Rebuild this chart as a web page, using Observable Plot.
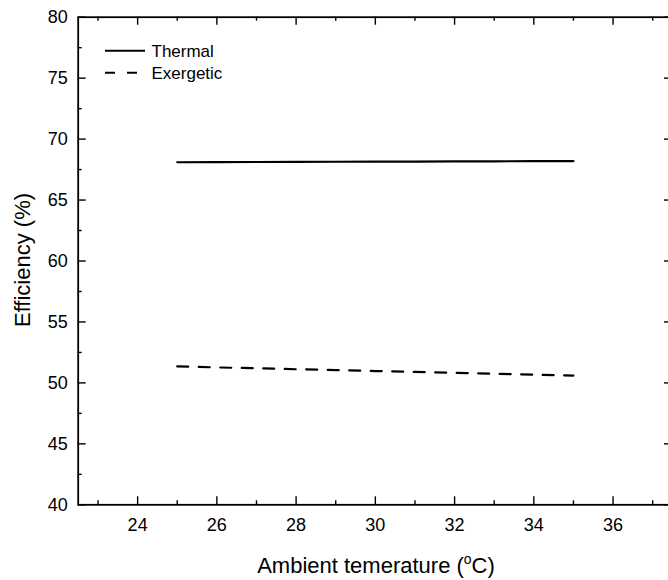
<!DOCTYPE html>
<html><head><meta charset="utf-8">
<script src="https://cdn.jsdelivr.net/npm/d3@7"></script>
<script src="https://cdn.jsdelivr.net/npm/@observablehq/plot@0.6"></script>
<style>
html,body{margin:0;padding:0;background:#fff;overflow:hidden;}
#wrap{position:relative;width:668px;height:580px;overflow:hidden;}
#wrap svg{max-width:none !important;display:block;}
</style></head><body><div id="wrap"></div>
<script>
const temperature = [25, 26, 27, 28, 29, 30, 31, 32, 33, 34, 35];
const thermal = [68.10, 68.11, 68.12, 68.13, 68.14, 68.15, 68.16, 68.17, 68.18, 68.19, 68.20];
const exergetic = [51.35, 51.27, 51.20, 51.12, 51.05, 50.97, 50.90, 50.82, 50.75, 50.67, 50.60];
const seriesNames = ["Thermal", "Exergetic"];
const xMajorTicks = [24, 26, 28, 30, 32, 34, 36];
const xMinorTicks = [23, 25, 27, 29, 31, 33, 35, 37];
const yMajorTicks = [40, 45, 50, 55, 60, 65, 70, 75, 80];
const yMinorTicks = [42.5, 47.5, 52.5, 57.5, 62.5, 67.5, 72.5, 77.5];
const xTitle = "Ambient temerature (";
const yTitle = "Efficiency (%)";

const rows = temperature.flatMap((t, i) => [
  {t, v: thermal[i], s: seriesNames[0]},
  {t, v: exergetic[i], s: seriesNames[1]}
]);

const W = 672, H = 580, mL = 77.7, mR = 0, mT = 16.7, mB = 75.7;
const fw = W - mL - mR, fh = H - mT - mB;
const maj = 8, mnr = 4;
const FONT = '"Liberation Sans", Arial, sans-serif';

const chart = Plot.plot({
  width: W, height: H,
  marginLeft: mL, marginRight: mR, marginTop: mT, marginBottom: mB,
  style: {fontFamily: FONT, color: "#000", background: "#fff", maxWidth: "none"},
  x: {domain: [22.5, 37.5], label: null},
  y: {domain: [40, 80], label: null},
  marks: [
    Plot.axisX(xMajorTicks, {tickSize: 0, tickPadding: 13, fontSize: 18, label: null}),
    Plot.axisY(yMajorTicks, {tickSize: 0, tickPadding: 10.5, fontSize: 18, label: null}),
    Plot.tickX(xMajorTicks, {x: d => d, insetTop: fh - maj, stroke: "#000", strokeWidth: 1.4}),
    Plot.tickX(xMinorTicks, {x: d => d, insetTop: fh - mnr, stroke: "#000", strokeWidth: 1.4}),
    Plot.tickX(xMajorTicks, {x: d => d, insetBottom: fh - maj, stroke: "#000", strokeWidth: 1.4}),
    Plot.tickX(xMinorTicks, {x: d => d, insetBottom: fh - mnr, stroke: "#000", strokeWidth: 1.4}),
    Plot.tickY(yMajorTicks, {y: d => d, insetRight: fw - maj, stroke: "#000", strokeWidth: 1.4}),
    Plot.tickY(yMinorTicks, {y: d => d, insetRight: fw - mnr, stroke: "#000", strokeWidth: 1.4}),
    Plot.tickY(yMajorTicks, {y: d => d, insetLeft: fw - maj, stroke: "#000", strokeWidth: 1.4}),
    Plot.tickY(yMinorTicks, {y: d => d, insetLeft: fw - mnr, stroke: "#000", strokeWidth: 1.4}),
    Plot.line(rows.filter(d => d.s === seriesNames[0]), {x: "t", y: "v", stroke: "#000", strokeWidth: 2.2}),
    Plot.line(rows.filter(d => d.s === seriesNames[1]), {x: "t", y: "v", stroke: "#000", strokeWidth: 2.2, strokeDasharray: "11,10.5"}),
    Plot.frame({stroke: "#000", strokeWidth: 1.8})
  ]
});

document.getElementById("wrap").appendChild(chart);
const svg = d3.select(chart);

// enforce tick label size
svg.selectAll('g[aria-label="x-axis tick label"], g[aria-label="y-axis tick label"]')
  .attr("font-size", 18).attr("fill", "#000");
svg.selectAll('g[aria-label="x-axis tick label"] text, g[aria-label="y-axis tick label"] text')
  .style("font-size", "18px");

// axis titles
const xt = svg.append("text")
  .attr("x", 376).attr("y", 573)
  .attr("text-anchor", "middle").attr("font-size", 22).attr("font-family", FONT).attr("fill", "#000");
xt.append("tspan").text(xTitle);
xt.append("tspan").attr("font-size", 14).attr("dy", -9).text("o");
xt.append("tspan").attr("dy", 9).text("C)");

svg.append("text")
  .attr("transform", `translate(30,${260}) rotate(-90)`)
  .attr("text-anchor", "middle").attr("font-size", 22).attr("font-family", FONT).attr("fill", "#000")
  .text(yTitle);

// legend
const legendY = [50.7, 72.7];
const dashes = [null, "10,12"];
seriesNames.forEach((name, i) => {
  svg.append("line")
    .attr("x1", 105).attr("x2", 145).attr("y1", legendY[i]).attr("y2", legendY[i])
    .attr("stroke", "#000").attr("stroke-width", 2)
    .attr("stroke-dasharray", dashes[i]);
  svg.append("text")
    .attr("x", 151.5).attr("y", legendY[i] + 6)
    .attr("text-anchor", "start")
    .attr("font-size", 17).attr("font-family", FONT).attr("fill", "#000").text(name);
});
</script></body></html>
